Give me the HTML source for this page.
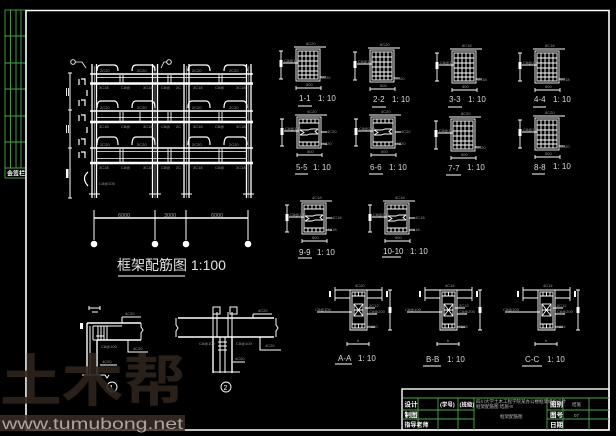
<!DOCTYPE html>
<html><head><meta charset="utf-8"><style>
html,body{margin:0;padding:0;background:#000;}
svg{display:block;}
.g{fill:#9a9a9a;font-family:"Liberation Sans",sans-serif;font-size:4px;}
.lb{fill:#dcdcdc;font-family:"Liberation Sans",sans-serif;font-size:8px;}
.tb{fill:#fff;font-family:"Liberation Sans","Noto Sans CJK SC",sans-serif;font-weight:bold;font-size:6.5px;}
.ts{fill:#bbb;font-family:"Liberation Sans","Noto Sans CJK SC",sans-serif;font-size:4.5px;}
</style></head><body>
<svg width="616" height="436" viewBox="0 0 616 436" xmlns="http://www.w3.org/2000/svg" xmlns:xlink="http://www.w3.org/1999/xlink">
<rect width="616" height="436" fill="#000"/>
<defs>
<g id="s1" fill="none" stroke="#fff" stroke-width="0.9">
 <rect x="0" y="0" width="24" height="32"/>
 <rect x="2" y="2" width="20" height="28"/>
 <path d="M6 2V30M10 2V30M14 2V30M18 2V30M2 7H22M2 12H22M2 17H22M2 22H22M2 26H22"/>
 <path d="M-2 -2H30M24 28H30"/>
 <path d="M-15 2V30M-17 2H-13M-17 30H-13M-13 14H2"/>
 <path d="M0 39H25M0 37V41M25 37V41"/>
 <rect x="-16.5" y="11" width="3" height="7" fill="#fff" stroke="none"/>
</g>
<g id="s2" fill="none" stroke="#fff" stroke-width="0.9">
 <rect x="0" y="0" width="24" height="31"/>
 <rect x="2" y="2" width="20" height="27"/>
 <path d="M2 6H22M6 2V6M10 2V6M14 2V6M18 2V6M2 25H22M6 25V29M10 25V29M14 25V29M18 25V29"/>
 <path d="M3 13H11L14 12H21M3 18H10L13 17H21M3 13L7 15.5L3 18M21 12L18 14.5L21 17"/>
 <path d="M-2 -2H30M24 15H30M24 27H30"/>
 <path d="M-15 2V29M-17 2H-13M-17 29H-13M-13 14H2"/>
 <path d="M0 38H25M0 36V40M25 36V40"/>
 <rect x="-16.5" y="11" width="3" height="7" fill="#fff" stroke="none"/>
</g>
<g id="s3" fill="none" stroke="#fff" stroke-width="0.9">
 <path d="M-2 0H45M-2 8H13M30 8H45M13 0V40H30V0"/>
 <path d="M-2 -3V11M45 -3V11"/>
 <rect x="15" y="2" width="13" height="36"/>
 <path d="M15 6H28M18 2V6M21.5 2V6M25 2V6M15 34H28M18 34V38M21.5 34V38M25 34V38"/>
 <rect x="17" y="14" width="9" height="12"/>
 <path d="M17 14L26 26M26 14L17 26M17 20H26"/>
 <path d="M53 0V40M51 0H55M51 40H55"/>
 <path d="M10 54H32M10 52V56M32 52V56"/>
 <path d="M-20 22H15M28 18H38M30 24H40M30 37H38"/>
 <rect x="-8" y="1" width="2" height="6" fill="#fff" stroke="none"/>
 <rect x="49" y="1" width="2" height="6" fill="#fff" stroke="none"/>
 <rect x="51.5" y="17" width="3" height="6" fill="#fff" stroke="none"/>
</g>
</defs>

<!-- left green strip -->
<g stroke="#48a848" stroke-width="0.9" fill="none">
 <rect x="5" y="10" width="21" height="168"/>
 <path d="M10.5 10V168M16 10V168M21 10V168M5 36H26M5 63H26M5 89H26M5 116H26M5 142H26M5 168H26"/>
</g>
<text class="tb" x="7" y="175.5" style="font-size:6px">会签栏</text>

<!-- outer frame -->
<g stroke="#fff" stroke-width="1.6" fill="none">
 <path d="M26 10.5H609V430H26Z"/>
</g>

<!-- ===== main frame elevation ===== -->
<g stroke="#fff" fill="none">
 <path stroke-width="1.3" d="M92 64V198M96.5 64V198M152.5 64V198M157.5 64V198M184 64V198M189 64V198M246.5 64V198M251 64V198"/>
 <path stroke-width="0.6" stroke="#bbb" d="M94.3 66V198M155 66V198M186.5 66V198M248.8 66V198"/>
 <path stroke-width="1.5" d="M90 74H253M90 111H253M90 148H253"/>
 <path stroke-width="2.6" d="M90 83.5H253M90 122H253M90 163H253"/>
 <path stroke-width="0.7" d="M97 77.5H246M97 117.5H246M97 151.5H246M97 158.5H246"/>
 <path stroke-width="0.9" d="M120 75V83M123 75V83M168 75V83M171 75V83M219 75V83M222 75V83M120 112V121M123 112V121M140 112V121M168 112V121M171 112V121M219 112V121M222 112V121M120 149V162M123 149V162M168 149V162M171 149V162M219 149V162M222 149V162"/>
 <!-- hats -->
 <path stroke-width="1.2" d="M97 71Q97 65 101 65H114Q118 65 118 71M132 71Q132 65 136 65H151Q155 65 155 71M188 71Q188 65 192 65H206Q210 65 210 71M224 71Q224 65 228 65H243Q247 65 247 71"/>
 <path stroke-width="1.2" d="M97 108Q97 101 101 101H114Q118 101 118 108M132 108Q132 101 136 101H151Q155 101 155 108M188 108Q188 101 192 101H206Q210 101 210 108M224 108Q224 101 228 101H243Q247 101 247 108"/>
 <path stroke-width="1.2" d="M97 145Q97 137 101 137H114Q118 137 118 145M132 145Q132 137 136 137H151Q155 137 155 145M188 145Q188 137 192 137H206Q210 137 210 145M224 145Q224 137 228 137H243Q247 137 247 145"/>
 <!-- left dimension -->
 <path stroke-width="1" d="M70 73V198M68 73H72M68 110H72M68 148H72M68 198H72"/>
 <path stroke-width="1.2" d="M79 79V85M81 79H85V85M79 100V106M81 100H85V106M79 115V121M81 115H85V121M79 139V145M81 139H85V145M79 152V158M81 152H85V158M87 90V96M87 127V133M88 172Q81 178 88 186"/>
 <path stroke-width="0.9" d="M66.5 88V96M68.5 88V96M66.5 125V133M68.5 125V133"/>
 <!-- section marks -->
 <circle cx="73" cy="62" r="2.3" stroke-width="0.9"/>
 <path stroke-width="0.8" d="M75 62H82L86 68M161 68L164 62H167"/>
 <circle cx="169" cy="62" r="2.3" stroke-width="0.9"/>
 <!-- column bottoms -->
 <path stroke-width="0.9" d="M89 194H100M149 194H161M181 194H192M243 194H254"/>
 <!-- dimension -->
 <path stroke-width="1.5" d="M94 218H248"/>
 <path stroke-width="1" d="M94 210V240M155 210V240M186 210V240M248 210V240"/>
</g>
<rect x="66" y="169" width="2.5" height="9" fill="#fff"/>
<g fill="#fff">
 <circle cx="94" cy="244" r="3.3"/><circle cx="155" cy="244" r="3.3"/><circle cx="186" cy="244" r="3.3"/><circle cx="248" cy="244" r="3.3"/>
</g>
<g class="g" style="font-size:5.5px">
 <text x="118" y="217">6000</text><text x="164" y="217">3000</text><text x="211" y="217">6000</text>
</g>
<g class="g">
 <text x="100" y="72">2C20</text><text x="137" y="72">2C20</text><text x="192" y="72">2C20</text><text x="229" y="72">2C20</text>
 <text x="100" y="109">2C20</text><text x="137" y="109">2C20</text><text x="192" y="109">2C20</text><text x="229" y="109">2C20</text>
 <text x="100" y="146">2C20</text><text x="137" y="146">2C20</text><text x="192" y="146">2C20</text><text x="229" y="146">2C20</text>
 <text x="99" y="89">3C18</text><text x="121" y="89">C8@</text><text x="143" y="89">3C18</text><text x="161" y="89">C8@</text><text x="176" y="89">2C</text><text x="193" y="89">3C18</text><text x="215" y="89">C8@</text><text x="236" y="89">3C18</text>
 <text x="99" y="128">3C18</text><text x="121" y="128">C8@</text><text x="143" y="128">3C18</text><text x="161" y="128">C8@</text><text x="176" y="128">2C</text><text x="193" y="128">3C18</text><text x="215" y="128">C8@</text><text x="236" y="128">3C18</text>
 <text x="99" y="169">3C18</text><text x="121" y="169">C8@</text><text x="143" y="169">3C18</text><text x="161" y="169">C8@</text><text x="176" y="169">2C</text><text x="193" y="169">3C18</text><text x="215" y="169">C8@</text><text x="236" y="169">3C18</text>
 <text x="99" y="185">C8@100</text>
</g>
<text x="117" y="270" style="fill:#e2e2e2;font-family:'Liberation Sans','Noto Sans CJK SC',sans-serif;font-size:14px">框架配筋图 1:100</text>
<path d="M118 276H185" stroke="#fff" stroke-width="1"/>

<!-- ===== sections row 1 ===== -->
<g transform="translate(296,49)"><use xlink:href="#s1" href="#s1"/><text class="g" x="10" y="-4">8C20</text><text class="g" x="25" y="30">4C20</text><text class="g" x="-12" y="13">C8@100</text><text class="g" x="10" y="37">500</text></g>
<g transform="translate(370,50)"><use xlink:href="#s1" href="#s1"/><text class="g" x="10" y="-4">8C20</text><text class="g" x="25" y="30">4C20</text><text class="g" x="-12" y="13">C8@100</text><text class="g" x="10" y="37">500</text></g>
<g transform="translate(452,51)"><use xlink:href="#s1" href="#s1"/><text class="g" x="10" y="-4">8C18</text><text class="g" x="25" y="30">4C18</text><text class="g" x="-12" y="13">C8@100</text><text class="g" x="10" y="37">500</text></g>
<g transform="translate(535,51)"><use xlink:href="#s1" href="#s1"/><text class="g" x="10" y="-4">8C18</text><text class="g" x="25" y="30">4C18</text><text class="g" x="-12" y="13">C8@100</text><text class="g" x="10" y="37">500</text></g>
<!-- row 2 -->
<g transform="translate(297,117)"><use xlink:href="#s2" href="#s2"/><text class="g" x="10" y="-4">4C20</text><text class="g" x="30" y="16">4C20</text><text class="g" x="25" y="28">4C20</text><text class="g" x="-12" y="13">C8@100</text><text class="g" x="10" y="36">500</text></g>
<g transform="translate(371,117)"><use xlink:href="#s2" href="#s2"/><text class="g" x="10" y="-4">4C20</text><text class="g" x="30" y="16">4C20</text><text class="g" x="25" y="28">4C20</text><text class="g" x="-12" y="13">C8@200</text><text class="g" x="10" y="36">500</text></g>
<g transform="translate(451,119)"><use xlink:href="#s1" href="#s1"/><text class="g" x="10" y="-4">8C20</text><text class="g" x="25" y="30">4C20</text><text class="g" x="-12" y="13">C8@100</text><text class="g" x="10" y="37">500</text></g>
<g transform="translate(535,118)"><use xlink:href="#s1" href="#s1"/><text class="g" x="10" y="-4">8C20</text><text class="g" x="25" y="30">4C20</text><text class="g" x="-12" y="13">C8@100</text><text class="g" x="10" y="37">500</text></g>
<!-- row 3 -->
<g transform="translate(302,203)"><use xlink:href="#s2" href="#s2"/><text class="g" x="10" y="-4">4C18</text><text class="g" x="30" y="16">4C18</text><text class="g" x="25" y="28">4C18</text><text class="g" x="-12" y="13">C8@100</text><text class="g" x="10" y="36">500</text></g>
<g transform="translate(385,203)"><use xlink:href="#s2" href="#s2"/><text class="g" x="10" y="-4">4C18</text><text class="g" x="30" y="16">4C18</text><text class="g" x="25" y="28">4C18</text><text class="g" x="-12" y="13">C8@200</text><text class="g" x="10" y="36">500</text></g>

<!-- section labels -->
<g class="lb">
 <text x="299" y="101">1-1</text><text x="318" y="101">1: 10</text>
 <text x="373" y="102">2-2</text><text x="392" y="102">1: 10</text>
 <text x="449" y="102">3-3</text><text x="468" y="102">1: 10</text>
 <text x="534" y="102">4-4</text><text x="553" y="102">1: 10</text>
 <text x="296" y="170">5-5</text><text x="313" y="170">1: 10</text>
 <text x="370" y="170">6-6</text><text x="389" y="170">1: 10</text>
 <text x="448" y="171">7-7</text><text x="467" y="170">1: 10</text>
 <text x="534" y="170">8-8</text><text x="553" y="169">1: 10</text>
 <text x="299" y="255">9-9</text><text x="317" y="255">1: 10</text>
 <text x="383" y="254">10-10</text><text x="410" y="254">1: 10</text>
 <text x="338" y="361">A-A</text><text x="358" y="361">1: 10</text>
 <text x="426" y="362">B-B</text><text x="447" y="362">1: 10</text>
 <text x="525" y="362">C-C</text><text x="547" y="362">1: 10</text>
</g>
<path stroke="#fff" stroke-width="0.9" d="M298 106H312M372 107H386M448 107H462M533 107H546M295 174H308M369 174H383M446 175H461M532 174H545M298 258H312M382 257H401M335 364H352M423 366H441M522 366H542"/>

<!-- T sections -->
<g transform="translate(337,290)"><use xlink:href="#s3" href="#s3"/><text class="g" x="18" y="-3">4C20</text><text class="g" x="32" y="17">2C12</text><text class="g" x="32" y="23">C8@200</text><text class="g" x="-22" y="21">C8@100</text><text class="g" x="31" y="38">4C20</text><text class="g" x="20" y="52">b</text></g>
<g transform="translate(427,290)"><use xlink:href="#s3" href="#s3"/><text class="g" x="18" y="-3">4C18</text><text class="g" x="32" y="17">2C12</text><text class="g" x="32" y="23">C8@200</text><text class="g" x="-22" y="21">C8@100</text><text class="g" x="31" y="38">4C18</text><text class="g" x="20" y="52">b</text></g>
<g transform="translate(525,290)"><use xlink:href="#s3" href="#s3"/><text class="g" x="18" y="-3">4C14</text><text class="g" x="32" y="17">2C12</text><text class="g" x="32" y="23">C8@200</text><text class="g" x="-22" y="21">C8@100</text><text class="g" x="31" y="38">4C14</text><text class="g" x="20" y="52">b</text></g>

<!-- detail 1 -->
<g stroke="#fff" fill="none" stroke-width="1">
 <path stroke-width="1.4" d="M87 323V375M97 340V375M87 323H141M97 340H141"/>
 <path d="M90 326V375M93 326H122M93 326V340M98 326V340M101 326V340M104 326V340M107 326V340M96 336H104M93 340H97"/>
 <path d="M141 323V327L143 330L141 333V340"/>
 <path d="M122 317H141M122 317V323M128 340V352H148M100 365H117M82 375H105L107 378L109 375"/>
 <path d="M89 308H100M89 306V310M100 306V310M92 312H98"/>
</g>
<rect x="80" y="323" width="3" height="6" fill="#fff"/>
<g class="g"><text x="125" y="315">4C20</text><text x="133" y="350">4C20</text><text x="101" y="348">C8@100</text><text x="102" y="363">4C20</text></g>
<circle cx="112" cy="387" r="5" stroke="#fff" fill="none" stroke-width="0.9"/>
<text x="109.5" y="390" style="fill:#fff;font-family:'Liberation Sans',sans-serif;font-size:7px">1</text>

<!-- detail 2 -->
<g stroke="#fff" fill="none" stroke-width="1">
 <path stroke-width="1.4" d="M178 318H274M178 337H274M213 337V373M232 337V373"/>
 <path d="M176 318V325L178 328L176 331V337M276 318V325L278 328L276 331V337"/>
 <path d="M213 312V337M217 312V337M228 312V337M232 312V337M220 337V373M225 337V373M213 372H240M218 342H227M218 346H227M218 350H227"/>
 <path d="M253 314H272M253 314V318M260 337V350H281M233 362H245"/>
 <rect x="213" y="307" width="7" height="7"/><rect x="230" y="307" width="7" height="7"/>
</g>
<g class="g"><text x="258" y="312">4C20</text><text x="265" y="347">4C20</text><text x="199" y="345">C8@100</text><text x="236" y="345">C8@100</text><text x="235" y="360">4C20</text></g>
<circle cx="226" cy="387" r="5" stroke="#fff" fill="none" stroke-width="0.9"/>
<text x="223.5" y="390" style="fill:#fff;font-family:'Liberation Sans',sans-serif;font-size:7px">2</text>

<!-- title block -->
<rect x="402" y="389" width="207" height="41" fill="none" stroke="#fff" stroke-width="1.4"/>
<g stroke="#48a848" stroke-width="0.9" fill="none">
 <path d="M403 398H609M403 410H474M547 410H609M403 419H474M547 419H609"/>
 <path d="M418 398V430M438 398V430M458 398V430M474 398V430M547 398V430M563 398V430M589 398V430"/>
</g>
<g class="tb">
 <text x="404.5" y="406.5">设计</text><text x="404.5" y="417">制图</text><text x="404.5" y="427" style="font-size:6px">指导老师</text>
 <text x="440" y="406.5" style="font-size:5.5px">(学号)</text><text x="459.5" y="406.5" style="font-size:5.5px">(班级)</text>
 <text x="550" y="406.5">图别</text><text x="550" y="417">图号</text><text x="550" y="427">日期</text>
</g>
<g class="ts">
 <text x="476" y="403">四川大学土木工程学院某办公楼框架结构设计</text>
 <text x="476" y="408">框架配筋图 结施-8</text>
 <text x="500" y="418">框架配筋图</text>
 <text x="572" y="406">结施</text><text x="574" y="417">07</text>
</g>

<!-- watermark -->
<text x="0" y="401" textLength="185" lengthAdjust="spacingAndGlyphs" style="fill:#2f241d;fill-opacity:0.9;font-family:'Noto Sans CJK SC',sans-serif;font-weight:bold;font-size:56px">土木帮</text>
<rect x="0" y="415" width="185" height="16" fill="#3b2e26" fill-opacity="0.85"/>
<text x="2" y="429" textLength="181" lengthAdjust="spacingAndGlyphs" style="fill:#aaa5a2;font-family:'Liberation Sans',sans-serif;font-size:16px">www.tumubong.net</text>
</svg>
</body></html>
